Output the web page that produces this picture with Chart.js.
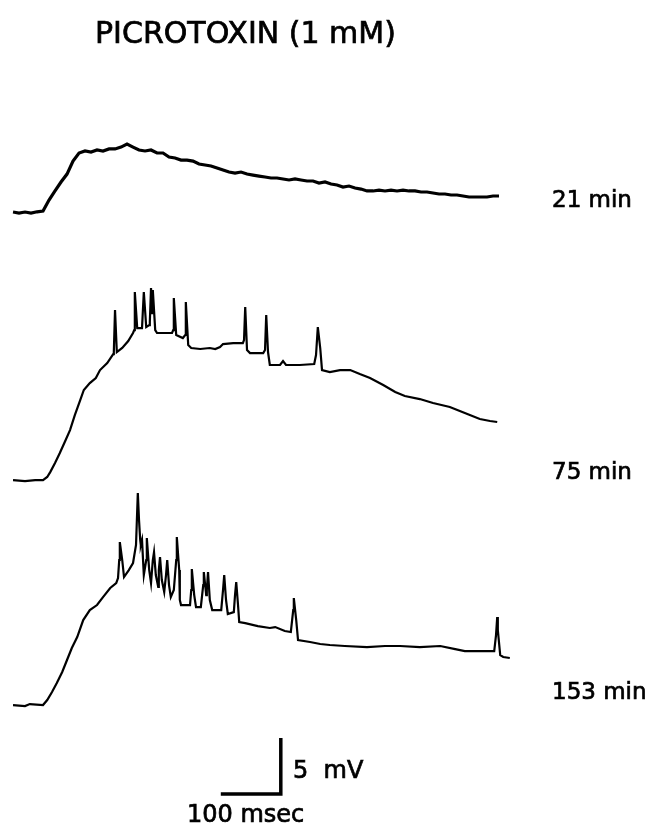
<!DOCTYPE html>
<html>
<head>
<meta charset="utf-8">
<script src="https://cdn.jsdelivr.net/npm/chart.js@4.4.1/dist/chart.umd.min.js"></script>
<style>
  html, body { margin: 0; padding: 0; background: #fff; }
  canvas { display: block; }
</style>
</head>
<body>
<canvas id="chart" width="650" height="825"></canvas>
<script>
// membrane potential traces, mV relative to resting level, time in msec from trace start

// 21 min: sampled every 10 msec
const dt21 = 10;
const v21 = [0,-0.09,0,-0.09,0.02,0.09,1.07,1.88,2.68,3.39,
  4.55,5.27,5.45,5.36,5.54,5.45,5.63,5.63,5.80,6.07,
  5.80,5.54,5.45,5.54,5.27,5.27,4.91,4.82,4.64,4.64,
  4.55,4.29,4.20,4.11,3.93,3.75,3.57,3.48,3.57,3.39,
  3.30,3.21,3.13,3.04,3.04,2.95,2.86,2.95,2.86,2.77,
  2.77,2.59,2.68,2.50,2.41,2.23,2.32,2.14,2.05,1.88,
  1.88,1.96,1.88,1.96,1.88,1.96,1.88,1.88,1.79,1.79,
  1.70,1.61,1.61,1.52,1.52,1.43,1.34,1.34,1.34,1.34,
  1.43,1.43];

// 75 min
const t75 = [0,20,37,50,57,62,70,78,87,95,
  103,112,118,128,138,145,157,167,168,170,
  173,182,192,200,202,203,207,215,218,222,
  227,228,230,232,233,237,240,265,267,268,
  272,283,287,288,292,297,312,328,337,345,
  350,367,383,385,387,390,395,417,420,422,
  425,428,445,450,455,478,502,505,508,512,
  515,528,545,562,578,595,617,637,653,678,
  700,728,753,778,795,807];
const v75 = [0,-0.09,0,0,0.27,0.71,1.52,2.41,3.48,4.46,
  5.80,7.14,8.04,8.66,9.11,9.82,10.45,11.25,11.43,15.18,
  11.43,11.79,12.41,13.13,13.39,16.79,13.57,13.57,16.79,13.66,
  13.84,14.11,17.14,14.91,16.96,13.39,13.13,13.13,13.39,16.25,
  12.95,12.68,12.95,15.89,12.05,11.79,11.70,11.79,11.70,11.88,
  12.14,12.23,12.23,12.5,15.45,11.61,11.34,11.34,11.61,14.73,
  11.43,10.27,10.27,10.63,10.27,10.27,10.36,11.16,13.66,11.79,
  9.82,9.64,9.82,9.82,9.46,9.11,8.48,7.86,7.50,7.23,
  6.88,6.52,5.98,5.45,5.27,5.18];

// 153 min
const t153 = [0,20,28,50,57,65,73,82,90,98,
  107,117,128,140,150,162,172,175,177,178,
  182,185,193,200,205,208,210,212,213,215,
  218,222,223,227,230,233,235,238,242,243,
  245,248,252,255,257,260,263,268,272,273,
  277,278,280,295,297,298,302,305,313,317,
  318,322,323,325,328,332,347,350,352,355,
  358,368,370,372,375,377,387,408,428,437,
  453,463,467,468,472,475,495,512,528,553,
  590,620,645,678,712,737,753,778,802,805,
  807,808,812,817,828];
const v153 = [0,-0.09,0.09,0,0.45,1.16,1.96,2.95,4.02,5.09,
  6.07,7.59,8.48,8.93,9.64,10.45,10.89,11.34,12.95,14.55,
  12.95,11.43,12.05,12.68,14.29,18.93,16.52,14.73,14.29,14.73,
  11.61,12.95,14.91,12.05,10.89,12.95,13.66,11.61,10.54,12.05,
  13.21,11.16,10.09,11.61,12.95,10.71,9.64,10.27,12.95,15.0,
  12.05,9.38,8.93,8.93,10.27,12.14,9.82,8.75,8.75,10.71,
  11.88,9.82,10.27,11.88,9.38,8.48,8.48,10.27,11.61,9.38,
  8.13,8.30,9.82,10.98,8.93,7.41,7.32,7.05,6.88,6.96,
  6.61,6.52,8.48,9.55,7.59,5.80,5.63,5.45,5.36,5.27,
  5.18,5.27,5.27,5.18,5.27,5.0,4.82,4.82,4.82,6.25,
  7.86,6.70,4.46,4.29,4.20];

// calibration bar: 100 msec, 5 mV
const barT = [0, 100, 100];
const barV = [0, 0, 5];

const labels = ['21 min', '75 min', '153 min'];
const title = 'PICROTOXIN (1 mM)';

// layout: where each trace sits on the page (msec / mV units)
const X0 = 21.7;
const BASES = [54.73, 30.80, 10.71];
const BAR_X = 368, BAR_Y = 2.77;

function pts(ts, vs, x0, y0) {
  return vs.map((v, i) => ({ x: x0 + ts[i], y: y0 + v }));
}
const t21 = v21.map((_, i) => i * dt21);

const lineStyle = { borderColor: '#000', pointRadius: 0, tension: 0, fill: false };

// draws text a little heavier, like the photocopied original
function heavyText(ctx, s, x, y) {
  ctx.fillText(s, x, y);
  ctx.strokeText(s, x, y);
}

const textPlugin = {
  id: 'texts',
  afterDraw(chart) {
    const ctx = chart.ctx;
    ctx.save();
    ctx.fillStyle = '#000';
    ctx.strokeStyle = '#000';
    ctx.lineWidth = 0.7;
    ctx.textBaseline = 'alphabetic';
    ctx.font = '30px "DejaVu Sans"';
    heavyText(ctx, title, 95, 43);
    ctx.font = '23px "DejaVu Sans"';
    heavyText(ctx, labels[0], 552, 207);
    heavyText(ctx, labels[1], 552, 479);
    heavyText(ctx, labels[2], 552, 699);
    ctx.font = '24px "DejaVu Sans"';
    heavyText(ctx, '5  mV', 293, 778);
    heavyText(ctx, '100 msec', 187, 822);
    ctx.restore();
  }
};

new Chart(document.getElementById('chart'), {
  type: 'line',
  data: {
    datasets: [
      { ...lineStyle, data: pts(t21, v21, X0, BASES[0]), borderWidth: 3.2 },
      { ...lineStyle, data: pts(t75, v75, X0, BASES[1]), borderWidth: 2.2 },
      { ...lineStyle, data: pts(t153, v153, X0, BASES[2]), borderWidth: 2.2 },
      { ...lineStyle, data: pts(barT, barV, BAR_X, BAR_Y), borderWidth: 3.5, borderCapStyle: 'butt' }
    ]
  },
  options: {
    responsive: false,
    animation: false,
    devicePixelRatio: 1,
    layout: { padding: 0 },
    plugins: { legend: { display: false }, tooltip: { enabled: false } },
    scales: {
      x: { type: 'linear', min: 0, max: 650 / 0.6, display: false },
      y: { type: 'linear', min: 0, max: 825 / 11.2, display: false }
    }
  },
  plugins: [textPlugin]
});
</script>
</body>
</html>
